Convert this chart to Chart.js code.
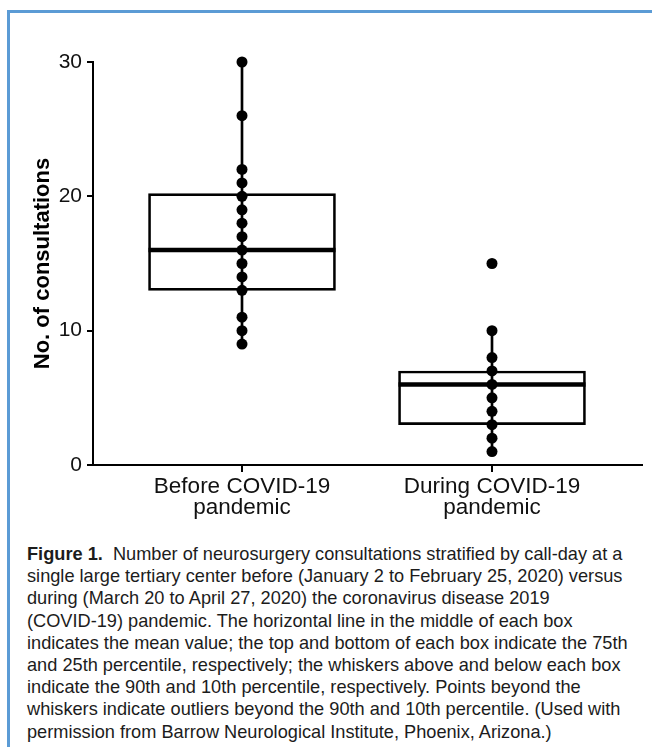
<!DOCTYPE html>
<html>
<head>
<meta charset="utf-8">
<script src="https://cdn.jsdelivr.net/npm/chart.js@4.4.1/dist/chart.umd.min.js"></script>
<style>
  html, body { margin: 0; padding: 0; background: #ffffff; }
  #frame { position: absolute; left: 7px; top: 10px; width: 660px; height: 760px;
           border-top: 3px solid #5b9bd5; border-left: 3px solid #5b9bd5; box-sizing: border-box; }
  #wrap { position: absolute; left: 0; top: 0; width: 652px; height: 530px; }
  #cap { position: absolute; left: 27px; top: 543px; font-family: 'Liberation Sans', Arial, sans-serif;
         font-size: 18.2px; line-height: 22.2px; color: #1c1c1c; white-space: nowrap; }
  #cap b { font-weight: bold; }
</style>
</head>
<body>
<div id="frame"></div>
<div id="wrap"><canvas id="c" width="652" height="530"></canvas></div>
<div id="cap">
<b>Figure 1.</b>&nbsp; Number of neurosurgery consultations stratified by call-day at a<br>
single large tertiary center before (January 2 to February 25, 2020) versus<br>
during (March 20 to April 27, 2020) the coronavirus disease 2019<br>
(COVID-19) pandemic. The horizontal line in the middle of each box<br>
indicates the mean value; the top and bottom of each box indicate the 75th<br>
and 25th percentile, respectively; the whiskers above and below each box<br>
indicate the 90th and 10th percentile, respectively. Points beyond the<br>
whiskers indicate outliers beyond the 90th and 10th percentile. (Used with<br>
permission from Barrow Neurological Institute, Phoenix, Arizona.)
</div>
<script>
// ---- data ----
const categories = ['Before COVID-19 pandemic', 'During COVID-19 pandemic'];
const tickLabels = [['Before COVID-19', 'pandemic'], ['During COVID-19', 'pandemic']];
const yTicks = [0, 10, 20, 30];
const q1Values = [13, 3];
const q3Values = [20.2, 7];
const meanValues = [16, 6];
const whiskerLow = [9, 1];
const whiskerHigh = [30, 10];
const beforeValues = [30, 26, 22, 21, 20, 19, 18, 17, 16, 15, 14, 13, 11, 10, 9];
const duringValues = [15, 10, 8, 7, 6, 5, 4, 3, 2, 1];
const yTitle = 'No. of consultations';

// ---- build ----
const groups = [beforeValues, duringValues];
const dotPoints = [];
groups.forEach((vals, i) => vals.forEach(v => dotPoints.push({ x: i, y: v })));

const boxData = categories.map((c, i) => ({ x: i, y: [q1Values[i], q3Values[i]] }));
const whiskerData = categories.map((c, i) => ({ x: i, y: [whiskerLow[i], whiskerHigh[i]] }));
const meanData = categories.map((c, i) => ({ x: i, y: meanValues[i] }));

const FONT = "'Liberation Sans', Arial, Helvetica, sans-serif";

new Chart(document.getElementById('c'), {
  data: {
    datasets: [
      { type: 'bar', data: boxData, backgroundColor: 'rgba(255,255,255,0)', borderColor: '#000',
        borderWidth: 2, borderSkipped: false, barThickness: 187, grouped: false, order: 4 },
      { type: 'bar', data: whiskerData, backgroundColor: '#000', borderWidth: 0,
        barThickness: 2, grouped: false, order: 3 },
      { type: 'line', data: meanData, showLine: false, pointStyle: 'line', pointRadius: 93.5,
        pointBorderWidth: 4.5, pointBorderColor: '#000', order: 2, clip: false },
      { type: 'line', data: dotPoints, showLine: false, pointStyle: 'circle', pointRadius: 5.5,
        pointBackgroundColor: '#000', pointBorderColor: '#000', pointBorderWidth: 0, order: 1, clip: false }
    ]
  },
  options: {
    responsive: false,
    animation: false,
    events: [],
    layout: { autoPadding: false, padding: { left: 0, top: 62, right: 10, bottom: 0 } },
    plugins: { legend: { display: false }, tooltip: { enabled: false } },
    scales: {
      x: {
        type: 'linear', min: -0.596, max: 1.6, offset: false,
        afterBuildTicks: s => { s.ticks = categories.map((c, i) => ({ value: i })); },
        afterFit: s => { s.height = 65; },
        ticks: { callback: (v, i) => tickLabels[i], color: '#111', padding: 4,
                 font: { family: FONT, size: 22.5, lineHeight: 0.93 }, maxRotation: 0, autoSkip: false },
        grid: { display: true, offset: false, drawOnChartArea: false, drawTicks: true, tickLength: 7,
                color: '#000', lineWidth: 2 },
        border: { display: true, color: '#000', width: 2 }
      },
      y: {
        min: 0, max: 30,
        afterBuildTicks: s => { s.ticks = yTicks.map(v => ({ value: v })); },
        afterFit: s => { s.width = 93; },
        ticks: { color: '#111', padding: 5, font: { family: FONT, size: 21 } },
        grid: { display: true, offset: false, drawOnChartArea: false, drawTicks: true, tickLength: 6,
                color: '#000', lineWidth: 2 },
        border: { display: true, color: '#000', width: 2 },
        title: { display: true, text: yTitle, color: '#000', padding: { top: 30, bottom: 0 },
                 font: { family: FONT, size: 22, weight: 'bold' } }
      }
    }
  }
});
</script>
</body>
</html>
